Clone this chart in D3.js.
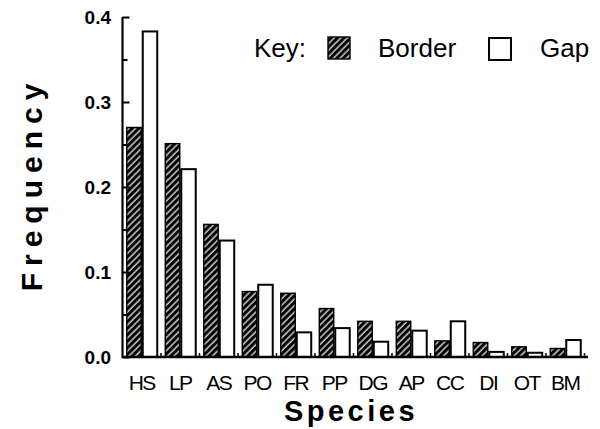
<!DOCTYPE html>
<html>
<head>
<meta charset="utf-8">
<script src="https://cdn.jsdelivr.net/npm/d3@7/dist/d3.min.js"></script>
<style>
  html, body { margin: 0; padding: 0; background: #fff; }
  svg { display: block; }
  text { font-family: "Liberation Sans", Arial, Helvetica, sans-serif; fill: #000; }
</style>
</head>
<body>
<svg id="chart" width="600" height="429"></svg>
<script>
// ---- data ----
const categories = ["HS", "LP", "AS", "PO", "FR", "PP", "DG", "AP", "CC", "DI", "OT", "BM"];
const borderValues = [0.270, 0.251, 0.156, 0.077, 0.075, 0.057, 0.042, 0.042, 0.019, 0.017, 0.012, 0.010];
const gapValues    = [0.383, 0.221, 0.137, 0.085, 0.029, 0.034, 0.018, 0.031, 0.042, 0.006, 0.005, 0.020];
const seriesNames = ["Border", "Gap"];
const majorTicks = [0, 0.1, 0.2, 0.3, 0.4];
const minorTicks = [0.05, 0.15, 0.25, 0.35];

const svg = d3.select("#chart");

// pattern for hatched bars
const defs = svg.append("defs");
const pat = defs.append("pattern")
  .attr("id", "hatch")
  .attr("patternUnits", "userSpaceOnUse")
  .attr("width", 4.6).attr("height", 4.6)
  .attr("patternTransform", "rotate(45)");
pat.append("rect").attr("width", 4.6).attr("height", 4.6).attr("fill", "#000");
pat.append("line").attr("x1", 1).attr("y1", 0).attr("x2", 1).attr("y2", 4.6)
  .attr("stroke", "#fff").attr("stroke-width", 1.2);

const x0 = 122.5, x1 = 584.5, yBase = 357, yTop = 17;

const x = d3.scaleBand().domain(categories).range([x0, x1])
  .paddingInner(0.17).paddingOuter(0.085);
const xs = d3.scaleBand().domain(seriesNames).range([0, x.bandwidth()]);
const y = d3.scaleLinear().domain([0, 0.4]).range([yBase, yTop]);

const data = categories.map((c, i) => ({ cat: c, vals: [
  { s: "Border", v: borderValues[i] },
  { s: "Gap", v: gapValues[i] }
]}));

// bars
const g = svg.append("g");
g.selectAll("g.grp").data(data).join("g")
  .attr("class", "grp")
  .attr("transform", d => `translate(${x(d.cat)},0)`)
  .selectAll("rect").data(d => d.vals).join("rect")
  .attr("x", d => xs(d.s) + 1)
  .attr("y", d => y(d.v))
  .attr("width", xs.bandwidth() - 1.5)
  .attr("height", d => yBase - y(d.v))
  .attr("fill", d => d.s === "Border" ? "url(#hatch)" : "#fff")
  .attr("stroke", "#000")
  .attr("stroke-width", d => d.s === "Border" ? 1.4 : 2);

// y axis
const yAxis = d3.axisRight(y).tickValues(majorTicks).tickSize(7).tickFormat("");
const ya = svg.append("g").attr("transform", `translate(${x0},0)`).call(yAxis);
ya.select(".domain").remove();
ya.selectAll("line").attr("stroke", "#000").attr("stroke-width", 2);
const yMinor = d3.axisRight(y).tickValues(minorTicks).tickSize(5).tickFormat("");
const ym = svg.append("g").attr("transform", `translate(${x0},0)`).call(yMinor);
ym.select(".domain").remove();
ym.selectAll("line").attr("stroke", "#000").attr("stroke-width", 2);
svg.append("line").attr("x1", x0).attr("x2", x0).attr("y1", yTop).attr("y2", yBase + 1)
  .attr("stroke", "#000").attr("stroke-width", 2.2);

// tick labels
svg.append("g").selectAll("text").data(majorTicks).join("text")
  .attr("x", 111).attr("y", d => y(d) + 7)
  .attr("text-anchor", "end")
  .attr("font-size", 19).attr("font-weight", "bold")
  .text(d => d3.format(".1f")(d));

// x axis baseline
svg.append("line").attr("x1", x0).attr("x2", 588).attr("y1", yBase).attr("y2", yBase)
  .attr("stroke", "#000").attr("stroke-width", 2.6);
// small ticks between groups
const bounds = categories.slice(1).map(c => x(c) - x.step() * x.paddingInner() / 2);
bounds.push(x(categories[categories.length - 1]) + x.bandwidth() + x.step() * x.paddingInner() / 2);
svg.append("g").selectAll("line").data(bounds).join("line")
  .attr("x1", d => d).attr("x2", d => d).attr("y1", yBase).attr("y2", yBase - 4)
  .attr("stroke", "#000").attr("stroke-width", 1.5);

// category labels
svg.append("g").selectAll("text").data(categories).join("text")
  .attr("x", d => x(d) + x.bandwidth() / 2)
  .attr("y", 390)
  .attr("text-anchor", "middle")
  .attr("font-size", 21)
  .attr("letter-spacing", -1.5)
  .text(d => d);

// axis titles
svg.append("text")
  .attr("x", 351).attr("y", 421)
  .attr("text-anchor", "middle")
  .attr("font-size", 29).attr("font-weight", "bold")
  .attr("letter-spacing", 3.5)
  .text("Species");
svg.append("text")
  .attr("transform", "translate(42,184) rotate(-90)")
  .attr("text-anchor", "middle")
  .attr("font-size", 30).attr("font-weight", "bold")
  .attr("letter-spacing", 7)
  .text("Frequency");

// legend
svg.append("text").attr("x", 254).attr("y", 57).attr("font-size", 26).text("Key:");
svg.append("rect").attr("x", 328).attr("y", 37).attr("width", 22).attr("height", 22)
  .attr("fill", "url(#hatch)").attr("stroke", "#000").attr("stroke-width", 1.4);
svg.append("text").attr("x", 378).attr("y", 57).attr("font-size", 26).text(seriesNames[0]);
svg.append("rect").attr("x", 489).attr("y", 38).attr("width", 22).attr("height", 22)
  .attr("fill", "#fff").attr("stroke", "#000").attr("stroke-width", 2);
svg.append("text").attr("x", 540).attr("y", 57).attr("font-size", 26).text(seriesNames[1]);
</script>
</body>
</html>
